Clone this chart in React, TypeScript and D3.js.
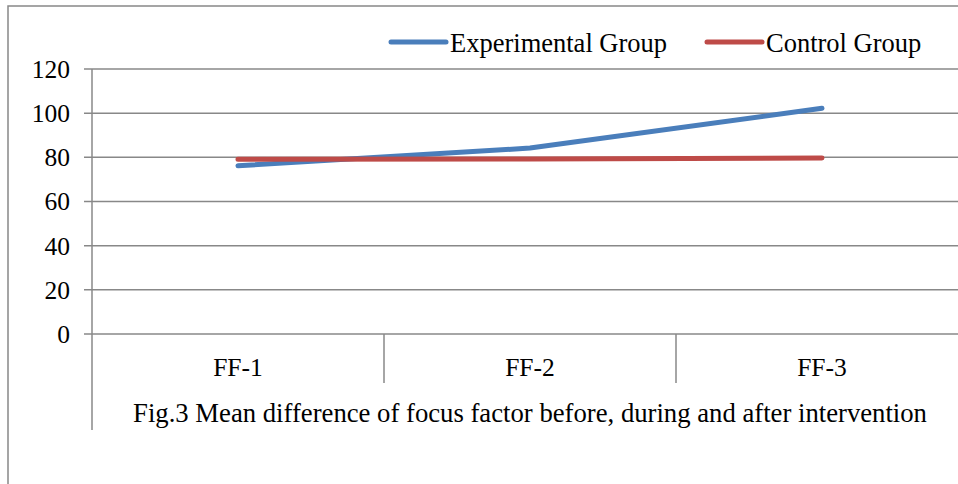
import React from "react";
import * as d3 from "d3";

const categories = ["FF-1", "FF-2", "FF-3"];
const experimental = [76.2, 84.2, 102.2];
const control = [79.1, 79.2, 79.7];
const yTicks = [0, 20, 40, 60, 80, 100, 120];
const seriesNames = ["Experimental Group", "Control Group"];
const caption = "Fig.3 Mean difference of focus factor before, during and after intervention";

const W = 958, H = 484;
const left = 92, right = 968, top = 69, bottom = 334;
const font = "'Liberation Serif', 'Times New Roman', serif";
const grid = "#888888";
const colors = ["#4A7EBB", "#BE4B48"];

export default function App() {
  const x = d3.scaleBand<string>().domain(categories).range([left, right]).padding(0);
  const y = d3.scaleLinear().domain([0, 120]).range([bottom, top]);
  const line = d3.line<number>()
    .x((_, i) => (x(categories[i]) as number) + x.bandwidth() / 2)
    .y((d) => y(d));
  const series = [experimental, control];
  const legendX = [391, 707];
  return (
    <svg width={W} height={H} style={{ position: "absolute", left: 0, top: 0, background: "#fff" }}>
      <rect x={8} y={6} width={W + 20} height={H + 20} fill="#fff" stroke={grid} strokeWidth={1.5} />
      {yTicks.map((t) => (
        <g key={t}>
          <line x1={84} x2={right} y1={y(t)} y2={y(t)} stroke={grid} strokeWidth={1.5} />
          <text x={70} y={y(t)} dy="0.35em" textAnchor="end" fontFamily={font} fontSize={25.5} fill="#000">{t}</text>
        </g>
      ))}
      <line x1={left} x2={left} y1={top} y2={430} stroke={grid} strokeWidth={1.5} />
      {categories.map((c, i) => (
        <g key={c}>
          <line x1={(x(c) as number) + x.bandwidth()} x2={(x(c) as number) + x.bandwidth()} y1={bottom} y2={383} stroke={grid} strokeWidth={1.5} />
          <text x={(x(c) as number) + x.bandwidth() / 2} y={367} dy="0.35em" textAnchor="middle" fontFamily={font} fontSize={25.5} fill="#000">{c}</text>
        </g>
      ))}
      <text x={(left + right) / 2} y={413} dy="0.35em" textAnchor="middle" fontFamily={font} fontSize={26.7} fill="#000">{caption}</text>
      {series.map((s, i) => (
        <path key={i} d={line(s) as string} fill="none" stroke={colors[i]} strokeWidth={5} strokeLinecap="round" strokeLinejoin="round" />
      ))}
      {seriesNames.map((n, i) => (
        <g key={n}>
          <line x1={legendX[i]} x2={legendX[i] + 55} y1={42} y2={42} stroke={colors[i]} strokeWidth={5} strokeLinecap="round" />
          <text x={legendX[i] + 59} y={43} dy="0.35em" fontFamily={font} fontSize={26.5} fill="#000">{n}</text>
        </g>
      ))}
    </svg>
  );
}
